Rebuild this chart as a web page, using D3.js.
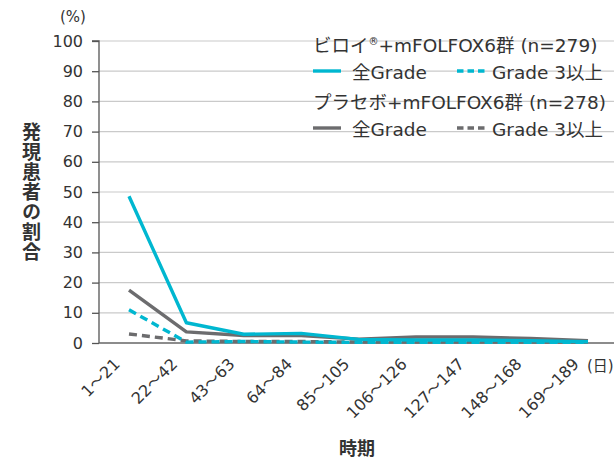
<!DOCTYPE html>
<html><head><meta charset="utf-8">
<script src="https://cdn.jsdelivr.net/npm/d3@7"></script>
<style>
body{margin:0;background:#fff;}
text{font-family:"DejaVu Sans","Noto Sans CJK JP",sans-serif;fill:#333;}
</style></head>
<body><svg id="c" width="614" height="461"></svg>
<script>
const categories=["1～21","22～42","43～63","64～84","85～105","106～126","127～147","148～168","169～189"];
const viloyAll=[48.6,6.7,2.9,3.2,1.2,1.0,1.0,0.8,0.4];
const viloyG3=[11.0,0.3,0.5,0.3,0.2,0.2,0.2,0.2,0.2];
const placeboAll=[17.5,3.7,2.5,2.5,1.3,2.0,2.0,1.5,0.8];
const placeboG3=[3.0,0.7,0.5,0.5,0.3,0.3,0.3,0.3,0.3];
const yTicks=[0,10,20,30,40,50,60,70,80,90,100];

const svg=d3.select("#c");
const x0=99,x1=614,yTop=41,yBot=343;
const x=d3.scalePoint().domain(categories).range([129,588]);
const y=d3.scaleLinear().domain([0,100]).range([yBot,yTop]);
const cyan="#00b7d0",gray="#6c6c6e";

// grid
svg.append("g").selectAll("line").data(yTicks.filter(d=>d>0)).join("line")
 .attr("x1",x0).attr("x2",x1).attr("y1",d=>y(d)).attr("y2",d=>y(d))
 .attr("stroke","#cacaca").attr("stroke-width",1.2);

// y axis
const ya=svg.append("g").attr("transform",`translate(${x0},0)`)
 .call(d3.axisLeft(y).tickValues(yTicks).tickSize(7).tickPadding(9));
ya.select(".domain").attr("stroke","#555").attr("stroke-width",1.3).attr("d",`M-7,${yTop}H0V${yBot}`);
ya.selectAll(".tick line").attr("stroke","#555").attr("stroke-width",1.3);
ya.selectAll("text").attr("font-size",16).attr("fill","#333").attr("font-family","'DejaVu Sans',sans-serif");

// x axis baseline
svg.append("line").attr("x1",x0).attr("x2",x1).attr("y1",yBot).attr("y2",yBot).attr("stroke","#666").attr("stroke-width",1.3);

// x labels
svg.append("g").selectAll("text").data(categories).join("text")
 .attr("transform",d=>`translate(${x(d)-8},${yBot+22}) rotate(-45)`)
 .attr("text-anchor","end").attr("font-size",16).text(d=>d);

svg.append("text").attr("x",587).attr("y",371).attr("font-size",15).text("(日)");
svg.append("text").attr("x",60).attr("y",22).attr("font-size",15).text("(%)");
svg.append("text").attr("x",357).attr("y",455).attr("font-size",18).attr("font-weight","bold").attr("text-anchor","middle").text("時期");

// y title vertical
svg.append("text").attr("x",30).attr("y",122)
 .style("writing-mode","vertical-rl").style("letter-spacing","1px")
 .attr("font-size",19).attr("font-weight","bold").text("発現患者の割合");

// lines
const line=d3.line().x((d,i)=>x(categories[i])).y(d=>y(d));
const series=[
 {v:placeboG3,c:gray,dash:"8,5"},
 {v:placeboAll,c:gray,dash:null},
 {v:viloyAll,c:cyan,dash:null},
 {v:viloyG3,c:cyan,dash:"8,5"}
];
svg.append("g").selectAll("path").data(series).join("path")
 .attr("d",d=>line(d.v)).attr("fill","none").attr("stroke",d=>d.c)
 .attr("stroke-width",3.4).attr("stroke-dasharray",d=>d.dash).attr("stroke-linejoin","round");

// legend
const lg=svg.append("g");
const L=[{t:"ビロイ",y:52,n:"279",c:cyan},{t:"プラセボ",y:109,n:"278",c:gray}];
const fs=18.5;
L.forEach((o,k)=>{
 const t=lg.append("text").attr("x",313).attr("y",o.y).attr("font-size",fs);
 t.append("tspan").text(o.t);
 if(k===0) t.append("tspan").attr("font-size",10).attr("dy",-7).text("®");
 t.append("tspan").attr("dy",k===0?7:0).text("+mFOLFOX6群 (n="+o.n+")");
 const ly=o.y+27;
 lg.append("line").attr("x1",313).attr("x2",341).attr("y1",ly-8).attr("y2",ly-8).attr("stroke",o.c).attr("stroke-width",3.4);
 lg.append("text").attr("x",352).attr("y",ly).attr("font-size",fs).text("全Grade");
 lg.append("line").attr("x1",457).attr("x2",486).attr("y1",ly-8).attr("y2",ly-8).attr("stroke",o.c).attr("stroke-width",3.4).attr("stroke-dasharray","6.5,4");
 lg.append("text").attr("x",492).attr("y",ly).attr("font-size",fs).text("Grade 3以上");
});
</script></body></html>
